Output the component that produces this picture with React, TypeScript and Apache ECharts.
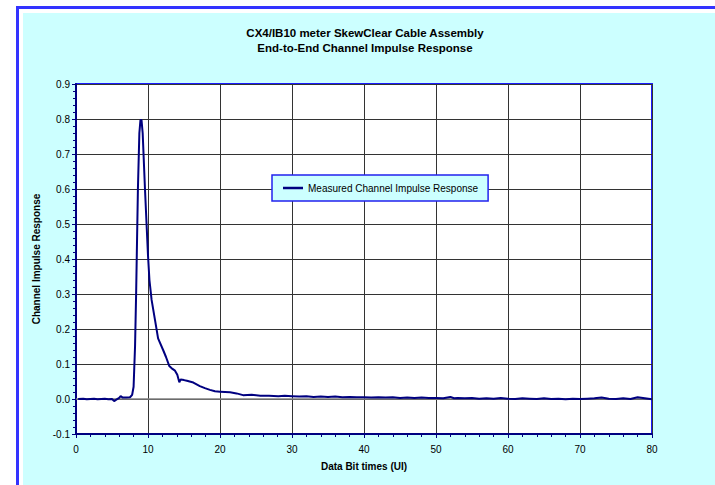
import React, { useEffect, useRef } from "react";
import * as echarts from "echarts";

const TITLE_LINES = [
  "CX4/IB10 meter SkewClear Cable Assembly",
  "End-to-End Channel Impulse Response",
];
const X_NAME = "Data Bit times (UI)";
const Y_NAME = "Channel Impulse Response";
const SERIES_NAME = "Measured Channel Impulse Response";

const xValues = [
  0.3, 1, 1.5, 2, 2.5, 3, 3.5, 4, 4.5, 5.0, 5.3, 5.6, 6.0, 6.2, 6.5, 7.0, 7.5, 7.8,
  8.0, 8.2, 8.35, 8.6, 8.8, 8.95, 9.1, 9.26, 9.58, 10.0, 10.2, 10.5, 10.97, 11.4,
  12.1, 12.5, 12.96, 13.4, 13.75, 14.07, 14.35, 14.54, 15.0, 15.4, 16.3, 17.2, 17.9,
  18.6, 19.3, 20.0, 20.7, 21.4, 22.3, 23.2, 24.4, 25.6, 26.8, 28.1, 29, 30, 31, 32,
  33, 34, 35, 36, 37, 38, 39, 40, 41, 42, 43, 44, 45, 46, 47, 48, 49, 50, 51, 52,
  52.5, 53, 54, 55, 56, 57, 58, 59, 60, 61, 62, 63, 64, 65, 66, 67, 68, 69, 70, 71,
  72, 73, 74, 75, 76, 77, 78, 79, 80,
];
const yValues = [
  0.0, 0.001, -0.001, 0.0, 0.001, -0.001, 0.0, 0.001, -0.001, 0.0, -0.006, -0.002,
  0.003, 0.008, 0.004, 0.004, 0.005, 0.012, 0.035, 0.15, 0.3, 0.6, 0.76, 0.797, 0.797,
  0.76, 0.6, 0.41, 0.34, 0.283, 0.226, 0.173, 0.14, 0.12, 0.094, 0.086, 0.081, 0.069,
  0.048, 0.056, 0.054, 0.052, 0.047, 0.037, 0.031, 0.026, 0.022, 0.021, 0.02, 0.019,
  0.016, 0.011, 0.012, 0.0095, 0.009, 0.008, 0.009, 0.008, 0.007, 0.008, 0.006,
  0.007, 0.006, 0.007, 0.005, 0.006, 0.005, 0.005, 0.004, 0.005, 0.004, 0.005, 0.003,
  0.004, 0.003, 0.004, 0.003, 0.003, 0.002, 0.006, 0.002, 0.003, 0.002, 0.003, 0.001,
  0.002, 0.001, 0.003, 0.001, 0.0, 0.002, 0.001, 0.0, 0.002, 0.0, 0.001, -0.001,
  0.001, 0.0, 0.001, 0.002, 0.004, 0.001, 0.0, 0.002, 0.0, 0.005, 0.002, -0.001,
];

const X_MIN = 0;
const X_MAX = 80;
const X_STEP = 10;
const Y_MIN = -0.1;
const Y_MAX = 0.9;
const Y_STEP = 0.1;

const FONT = "'Liberation Sans', Arial, sans-serif";

export default function App() {
  const ref = useRef<HTMLDivElement>(null);

  useEffect(() => {
    if (!ref.current) return;
    const chart = echarts.init(ref.current, undefined, { renderer: "svg" });
    const data = xValues.map((x, i) => [x, yValues[i]]);

    chart.setOption({
      animation: false,
      backgroundColor: "#ffffff",
      textStyle: { fontFamily: FONT },
      graphic: [
        {
          type: "rect",
          z: -10,
          silent: true,
          shape: { x: 17.5, y: 7.5, width: 720, height: 500 },
          style: { fill: "#ffffff", stroke: "#3333ff", lineWidth: 3 },
        },
        {
          type: "rect",
          z: -9,
          silent: true,
          shape: { x: 23, y: 13, width: 720, height: 500 },
          style: { fill: "#ccffff" },
        },
        {
          type: "text",
          x: 365,
          y: 33,
          style: {
            text: TITLE_LINES[0],
            font: `bold 11.5px ${FONT}`,
            fill: "#000",
            align: "center",
            verticalAlign: "middle",
          },
        },
        {
          type: "text",
          x: 365,
          y: 48,
          style: {
            text: TITLE_LINES[1],
            font: `bold 11.5px ${FONT}`,
            fill: "#000",
            align: "center",
            verticalAlign: "middle",
          },
        },
      ],
      legend: {
        data: [SERIES_NAME],
        left: 272,
        top: 175,
        orient: "horizontal",
        backgroundColor: "#ccffff",
        borderColor: "#2222ee",
        borderWidth: 1.5,
        borderRadius: 0,
        padding: [8, 10, 8, 11],
        icon: "rect",
        itemWidth: 20,
        itemHeight: 2.5,
        itemGap: 3,
        textStyle: { fontSize: 10, color: "#000", fontFamily: FONT },
        selectedMode: false,
      },
      grid: {
        left: 76,
        top: 84,
        width: 576,
        height: 350,
        show: true,
        backgroundColor: "#ffffff",
        borderColor: "#1a1aff",
        borderWidth: 2,
      },
      xAxis: {
        type: "value",
        min: X_MIN,
        max: X_MAX,
        interval: X_STEP,
        name: X_NAME,
        nameLocation: "middle",
        nameGap: 27,
        nameTextStyle: { fontWeight: "bold", fontSize: 10, color: "#000", fontFamily: FONT },
        axisLine: { show: true, onZero: false, lineStyle: { color: "#000080", width: 2 } },
        axisTick: { show: true, length: 4, lineStyle: { color: "#000080", width: 1 } },
        minorTick: { show: true, splitNumber: 5, length: 3, lineStyle: { color: "#000080", width: 1 } },
        axisLabel: { fontSize: 10, color: "#000", margin: 10, fontFamily: FONT },
        splitLine: { show: true, lineStyle: { color: "#333", width: 1 } },
      },
      yAxis: {
        type: "value",
        min: Y_MIN,
        max: Y_MAX,
        interval: Y_STEP,
        name: Y_NAME,
        nameLocation: "middle",
        nameGap: 29,
        nameTextStyle: { fontWeight: "bold", fontSize: 10, color: "#000", fontFamily: FONT },
        axisLine: { show: true, onZero: false, lineStyle: { color: "#000080", width: 2 } },
        axisTick: { show: true, length: 4, lineStyle: { color: "#000080", width: 1 } },
        minorTick: { show: true, splitNumber: 5, length: 3, lineStyle: { color: "#000080", width: 1 } },
        axisLabel: {
          fontSize: 10,
          color: "#000",
          margin: 6,
          fontFamily: FONT,
          formatter: (v: number) => v.toFixed(1),
        },
        splitLine: { show: true, lineStyle: { color: "#333", width: 1 } },
      },
      series: [
        {
          name: SERIES_NAME,
          type: "line",
          data,
          showSymbol: false,
          symbol: "none",
          color: "#000080",
          lineStyle: { color: "#000080", width: 2 },
          markLine: {
            silent: true,
            symbol: "none",
            label: { show: false },
            lineStyle: { color: "#808080", width: 1.5, type: "solid" },
            data: [{ yAxis: 0 }],
            z: 1,
          },
        },
      ],
    });

    return () => chart.dispose();
  }, []);

  return (
    <div
      ref={ref}
      style={{ position: "fixed", left: 0, top: 0, width: 715, height: 485 }}
    />
  );
}
